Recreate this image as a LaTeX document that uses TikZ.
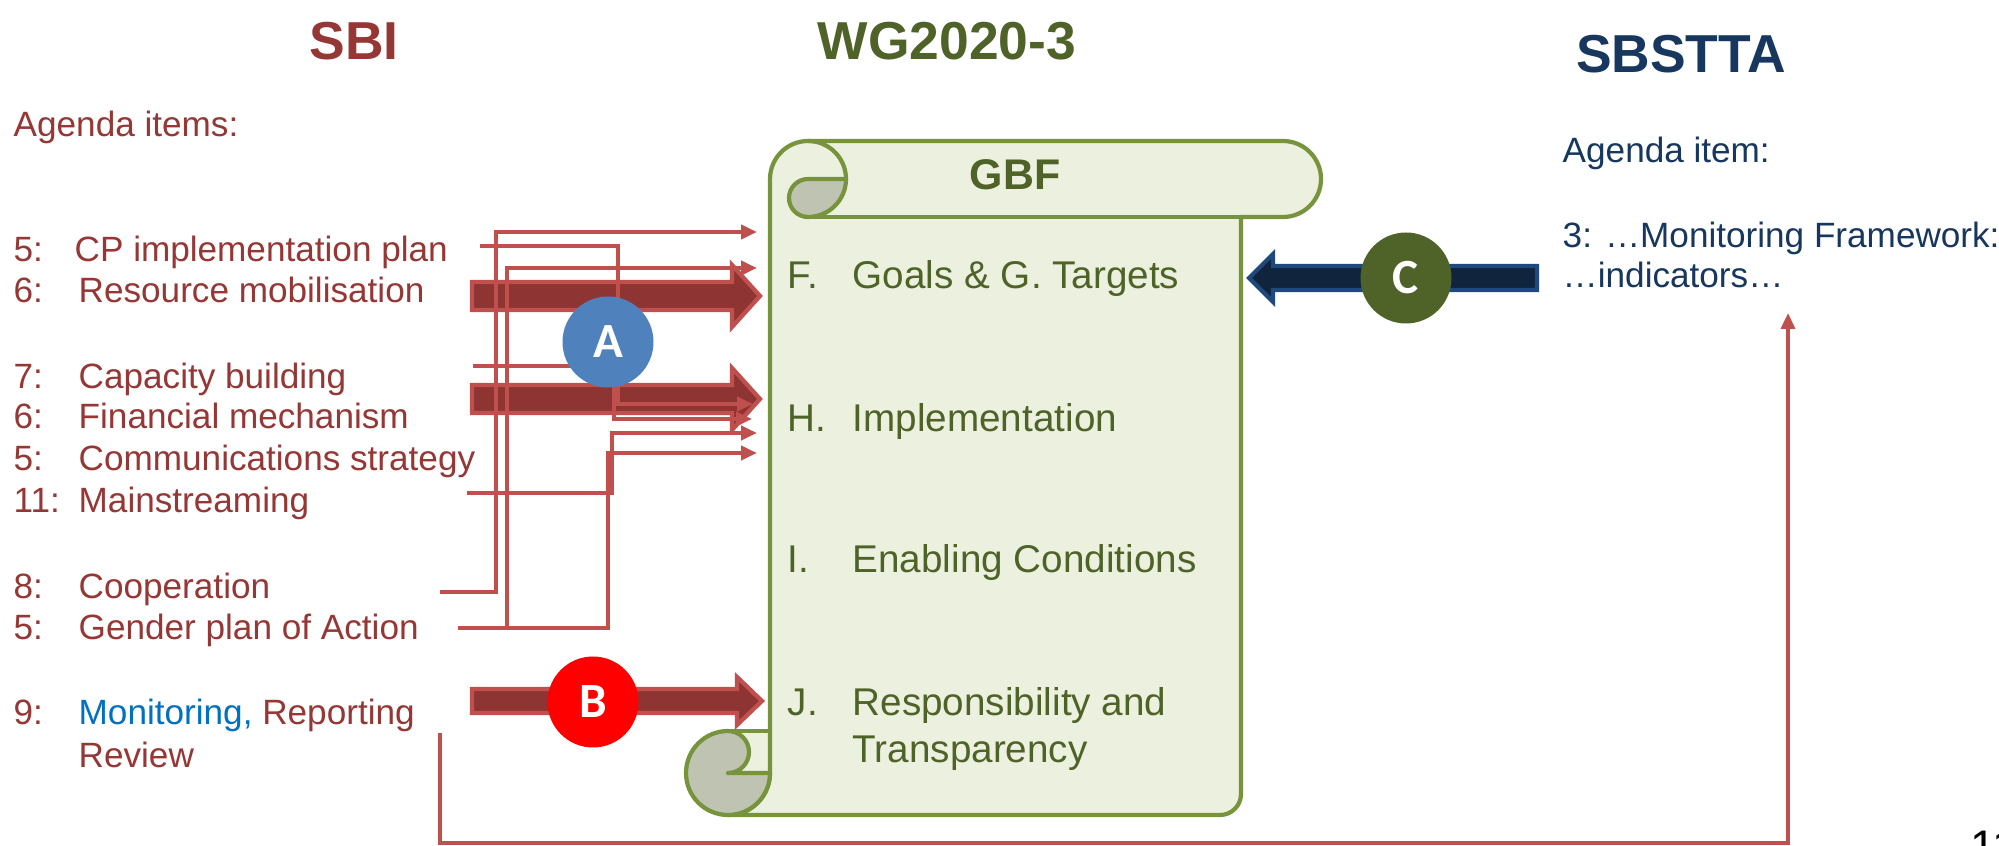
\documentclass[tikz,border=0pt]{standalone}
\usepackage{fontspec}
\setmainfont{Liberation Sans}
\newfontfamily\badgefont{Carlito}
\usepackage{xcolor}
\usetikzlibrary{arrows.meta}

\definecolor{sbired}{HTML}{953735}
\definecolor{linkred}{HTML}{C0504D}
\definecolor{wggreen}{HTML}{4F6228}
\definecolor{scrollline}{HTML}{77933C}
\definecolor{paper}{HTML}{EBF1DE}
\definecolor{curlgrey}{RGB}{191,196,178}
\definecolor{sbsttablue}{HTML}{17375E}
\definecolor{navyfill}{HTML}{10243E}
\definecolor{navyrim}{HTML}{1F497D}
\definecolor{monblue}{HTML}{0070C0}
\definecolor{badgeblue}{HTML}{4F81BD}

\begin{document}
\begin{tikzpicture}[x=0.1mm,y=0.1mm,
  item/.style={anchor=base west,inner sep=0pt,text=sbired,font=\fontsize{10}{12}\selectfont},
  part/.style={anchor=base west,inner sep=0pt,text=wggreen,font=\fontsize{11}{13}\selectfont},
  title/.style={anchor=base,inner sep=0pt,font=\fontsize{15.2}{18}\selectfont\bfseries},
  link/.style={draw=linkred,line width=1.2pt,-{Triangle[length=1.6mm,width=1.4mm]}},
  fat/.style={fill=sbired!95!black,draw=linkred,line width=1.2pt,line join=miter},
  badge/.style={circle,minimum size=9.1mm,inner sep=0pt,text=white,font=\badgefont\bfseries\fontsize{14}{14}\selectfont}]
\useasboundingbox (0,0) rectangle (1999,845);
\fill[white] (0,0) rectangle (1999,845);

% headings
\node[title,text=sbired] (sbi) at (354,785) {SBI};
\node[title,text=wggreen] (wg) at (947,785) {WG2020-3};
\node[title,text=sbsttablue] (sbstta) at (1681,772) {SBSTTA};

% scroll
\fill[paper] (728,72) rectangle (770,114);
\draw[scrollline,fill=paper,line width=1.2pt,line join=round]
  (770,666) -- (770,72) arc[start angle=0,end angle=-90,radius=4.2mm]
  -- (1220,30) arc[start angle=-90,end angle=0,radius=2.1mm]
  -- (1241,628) -- (1283,628) arc[start angle=-90,end angle=90,radius=3.8mm]
  -- (808,704) arc[start angle=90,end angle=180,radius=3.8mm] -- cycle;
\draw[scrollline,line width=1.2pt] (808,704) arc[start angle=90,end angle=0,radius=3.8mm];
\draw[scrollline,line width=1.2pt] (808,628) -- (1241,628);
\draw[scrollline,fill=curlgrey,line width=1.2pt,line join=round] (808,666) -- (846,666)
  arc[start angle=0,end angle=-90,radius=3.8mm] arc[start angle=-90,end angle=-270,radius=1.9mm] -- cycle;
\draw[scrollline,fill=curlgrey,line width=1.2pt,line join=round] (728,114)
  arc[start angle=90,end angle=360,radius=4.2mm] -- (728,72) arc[start angle=-90,end angle=90,radius=2.1mm] -- cycle;
\draw[scrollline,line width=1.2pt] (728,114) -- (770,114);

\node[anchor=base,inner sep=0pt,text=wggreen,font=\fontsize{12.2}{14}\selectfont\bfseries] (gbf) at (1015,655) {GBF};
\node[part] (fl) at (787,556) {F.};
\node[part] (goals) at (852,556) {Goals \& G. Targets};
\node[part] (hl) at (787,413) {H.};
\node[part] (impl) at (852,413) {Implementation};
\node[part] (il) at (787,272) {I.};
\node[part] (enab) at (852,272) {Enabling Conditions};
\node[part] (jl) at (787,130) {J.};
\node[part] (resp) at (852,130) {Responsibility and};
\node[part] (transp) at (852,83) {Transparency};

% SBI agenda
\node[item] (agenda) at (13,708) {Agenda items:};
\node[item] at (13,583) {5:};  \node[item] (cp) at (74,583) {CP implementation plan};
\node[item] at (13,542) {6:};  \node[item] (resmob) at (78,542) {Resource mobilisation};
\node[item] at (13,456) {7:};  \node[item] (capbuild) at (78,456) {Capacity building};
\node[item] at (13,416) {6:};  \node[item] (finmech) at (78,416) {Financial mechanism};
\node[item] at (13,374) {5:};  \node[item] (commstrat) at (78,374) {Communications strategy};
\node[item] at (13,332) {11:}; \node[item] (mainstr) at (78,332) {Mainstreaming};
\node[item] at (13,246) {8:};  \node[item] (coop) at (78,246) {Cooperation};
\node[item] at (13,205) {5:};  \node[item] (gender) at (78,205) {Gender plan of Action};
\node[item] at (13,120) {9:};  \node[item] (monit) at (78,120) {\textcolor{monblue}{Monitoring,} Reporting};
\node[item] (review) at (78,78) {Review};

% SBSTTA agenda
\node[item,text=sbsttablue] (agendaR) at (1562,682) {Agenda item:};
\node[item,text=sbsttablue] (mfw) at (1562,597) {3: …Monitoring Framework:};
\node[item,text=sbsttablue] (indic) at (1562,557) {…indicators…};

% free ends of the connectors
\coordinate (cpS) at (480,599);
\coordinate (capS) at (473,479);
\coordinate (mainS) at (467,352);
\coordinate (coopS) at (440,253);
\coordinate (genS) at (458,217);
\coordinate (monS) at (440,112);
\coordinate (inF1) at (757,613);
\coordinate (inF2) at (757,577);
\coordinate (inH1) at (753,441);
\coordinate (inH2) at (752,426);
\coordinate (inH4) at (757,412);
\coordinate (inH3) at (757,392);
\coordinate (indicS) at (1788,532);

% thick arrows
\draw[fat] (472,535) -- (732,535) -- (732,518) -- (760,549) -- (732,580) -- (732,563) -- (472,563) -- cycle;
\draw[fat] (472,432) -- (732,432) -- (732,415) -- (760,446) -- (732,477) -- (732,460) -- (472,460) -- cycle;
\draw[fat] (472,132) -- (737,132) -- (737,120) -- (762,144) -- (737,168) -- (737,156) -- (472,156) -- cycle;
\draw[fill=navyfill,draw=navyrim,line width=1.2pt] (1537,555) -- (1273,555) -- (1273,543) -- (1249,567)
  -- (1273,591) -- (1273,579) -- (1537,579) -- cycle;

% thin connectors
\draw[link] (coopS) -- ++(56,0) |- (inF1);
\draw[link] (genS) ++(49,0) |- (inF2);
\draw[link] (genS) -- ++(150,0) |- (inH3);
\draw[link] (cpS) -- ++(138,0) |- (inH1);
\draw[link] (capS) -- ++(141,0) |- (inH2);
\draw[link] (mainS) -- ++(145,0) |- (inH4);
\draw[draw=linkred,line width=1pt,-{Triangle[length=1.6mm,width=1.4mm]}] (monS) -- ++(0,-110) -| (indicS);

% badges
\node[badge,fill=badgeblue] (bA) at (608,503) {A};
\node[badge,fill=red] (bB) at (593,143) {B};
\node[badge,fill=wggreen] (bC) at (1406,567) {C};

\node[anchor=north west,inner sep=0pt,font=\fontsize{13}{15}\selectfont] (pageno) at (1970,15) {11};
\end{tikzpicture}
\end{document}
